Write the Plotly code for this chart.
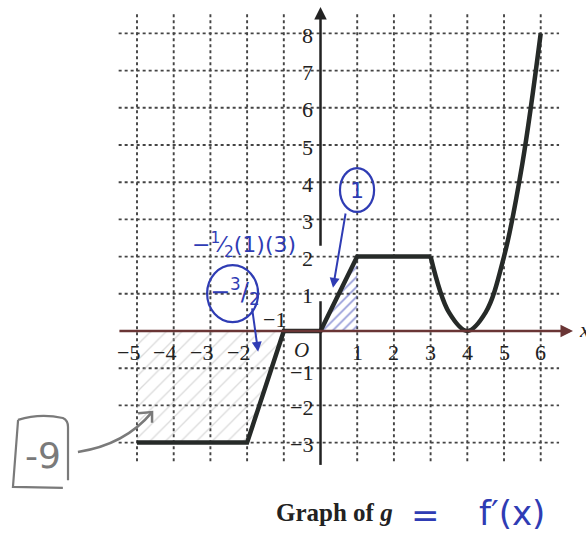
import plotly.graph_objects as go

# ---- data: the function g ----
# piecewise-linear part of g on [-5, 3]
lin_x = [-5, -2, -1, 0, 1, 3]
lin_y = [-3, -3, 0, 0, 2, 2]
# curved part of g on [3, 6]
curve_x = [3, 3.5, 4, 4.5, 5, 5.5, 6]
curve_y = [2, 0.5, 0, 0.5, 2, 4.5, 8]

# shaded regions (area between g and the x-axis)
neg_region_x = [-5, -5, -2, -1, -5]
neg_region_y = [0, -3, -3, 0, 0]
pos_region_x = [0, 1, 1, 0]
pos_region_y = [0, 2, 0, 0]

# tick labels
x_tick_vals = [-5, -4, -3, -2, 1, 2, 3, 4, 5, 6]
y_tick_vals = [-3, -2, -1, 1, 2, 3, 4, 5, 6, 7, 8]
grid_x = [-5, -4, -3, -2, -1, 1, 2, 3, 4, 5, 6]
grid_y = [-3, -2, -1, 1, 2, 3, 4, 5, 6, 7, 8]

X_RANGE = [-8.733, 7.234]
Y_RANGE = [-5.538, 8.898]

INK = "#262a28"
BLUE = "#2f3cb4"
PENCIL = "#7a7a7a"
SERIF = "Liberation Serif"
HAND = "DejaVu Sans"

fig = go.Figure()

# hatched areas
fig.add_trace(go.Scatter(
    x=neg_region_x, y=neg_region_y, mode="lines", fill="toself",
    line=dict(width=0, color="rgba(0,0,0,0)"),
    fillcolor="rgba(0,0,0,0)",
    fillpattern=dict(shape="/", fgcolor="#b8b8b8", bgcolor="rgba(0,0,0,0)",
                     size=11, solidity=0.12),
    hoverinfo="skip", showlegend=False))
fig.add_trace(go.Scatter(
    x=pos_region_x, y=pos_region_y, mode="lines", fill="toself",
    line=dict(width=0, color="rgba(0,0,0,0)"),
    fillcolor="rgba(0,0,0,0)",
    fillpattern=dict(shape="/", fgcolor=BLUE, bgcolor="rgba(0,0,0,0)",
                     size=7, solidity=0.25),
    hoverinfo="skip", showlegend=False))

shapes = []
# dotted grid
for gx in grid_x:
    shapes.append(dict(type="line", xref="x", yref="y", x0=gx, x1=gx, y0=-3.5, y1=8.55,
                       line=dict(color="#444", width=1.9, dash="dot"), layer="below"))
for gy in grid_y:
    shapes.append(dict(type="line", xref="x", yref="y", x0=-5.5, x1=6.5, y0=gy, y1=gy,
                       line=dict(color="#444", width=1.9, dash="dot"), layer="below"))
# lower part of the y-axis
shapes.append(dict(type="line", xref="x", yref="y", x0=0, x1=0, y0=-3.6, y1=0.8,
                   line=dict(color="#222", width=2.5)))

# handwritten circles
shapes.append(dict(type="circle", xref="x", yref="y", x0=-3.09, x1=-1.70, y0=0.24, y1=1.77,
                   line=dict(color=BLUE, width=2.2)))
shapes.append(dict(type="circle", xref="x", yref="y", x0=0.53, x1=1.46, y0=3.2, y1=4.38,
                   line=dict(color=BLUE, width=2.2)))
# pencil box around the answer and its arrow
shapes.append(dict(type="path", xref="x", yref="y",
                   path="M -8.24,-2.39 Q -7.64,-2.2 -7.02,-2.34 Q -6.88,-2.4 -6.88,-2.58 "
                        "L -6.88,-4.01 M -8.24,-2.39 L -8.38,-4.19 L -7.02,-4.22",
                   line=dict(color=PENCIL, width=2.2)))
shapes.append(dict(type="path", xref="x", yref="y",
                   path="M -6.61,-3.25 Q -5.33,-3.06 -4.59,-2.18",
                   line=dict(color=PENCIL, width=2.5)))
shapes.append(dict(type="path", xref="x", yref="y",
                   path="M -4.97,-2.21 L -4.59,-2.18 L -4.59,-2.47",
                   line=dict(color=PENCIL, width=2.5)))

# graph of g
fig.add_trace(go.Scatter(x=lin_x, y=lin_y, mode="lines",
                         line=dict(color=INK, width=4.5),
                         hoverinfo="skip", showlegend=False))
fig.add_trace(go.Scatter(x=curve_x, y=curve_y, mode="lines",
                         line=dict(color=INK, width=4.5, shape="spline", smoothing=1),
                         hoverinfo="skip", showlegend=False))

ann = []
tick_font = dict(family=SERIF, size=22, color="#222")
for v in x_tick_vals:
    ann.append(dict(x=v, y=-0.58, xref="x", yref="y", text=f"{v}".replace("-", "\u2212"),
                    showarrow=False, font=tick_font,
                    xshift=-9 if v < 0 else 0))
ann.append(dict(x=-1, y=0.32, xref="x", yref="y", text="\u22121", showarrow=False,
                font=tick_font, xshift=-9))
ann.append(dict(x=0, y=-0.5, xref="x", yref="y", text="<i>O</i>", showarrow=False,
                font=dict(family=SERIF, size=21, color="#222"), xshift=-19))
for v in y_tick_vals:
    ann.append(dict(x=0, y=v, xref="x", yref="y", text=f"{v}".replace("-", "\u2212"),
                    showarrow=False, font=tick_font, xanchor="right", xshift=-6,
                    yshift=-4 if v == -1 else -2))

# axes with arrowheads
ann.append(dict(x=6.88, y=0, ax=-5.52, ay=0, xref="x", yref="y", axref="x", ayref="y",
                text="", showarrow=True, arrowhead=2, arrowsize=1, arrowwidth=2.5,
                arrowcolor="#6a3535"))
ann.append(dict(x=0, y=8.71, ax=0, ay=2.25, xref="x", yref="y", axref="x", ayref="y",
                text="", showarrow=True, arrowhead=2, arrowsize=1, arrowwidth=2.5,
                arrowcolor="#222"))
ann.append(dict(x=7.0, y=0.05, xref="x", yref="y", text="<i>x</i>", showarrow=False,
                font=dict(family=SERIF, size=22, color="#222"), xanchor="left"))

# caption
ann.append(dict(x=0.37, y=-4.87, xref="x", yref="y", text="<b>Graph of <i>g</i></b>",
                showarrow=False, font=dict(family=SERIF, size=25, color="#222")))
ann.append(dict(x=2.85, y=-4.95, xref="x", yref="y", text="=", showarrow=False,
                font=dict(family=HAND, size=34, color=BLUE)))
ann.append(dict(x=5.22, y=-4.89, xref="x", yref="y", text="f\u2032(x)", showarrow=False,
                font=dict(family=HAND, size=34, color=BLUE)))

# handwritten work
ann.append(dict(x=-2.08, y=2.31, xref="x", yref="y",
                text="\u2212<sup>1</sup>\u2044<sub>2</sub>(1)(3)", showarrow=False,
                font=dict(family=HAND, size=22, color=BLUE)))
ann.append(dict(x=-2.33, y=1.05, xref="x", yref="y",
                text="\u2212<sup>3</sup>/<sub>2</sub>", showarrow=False,
                font=dict(family=HAND, size=24, color=BLUE)))
ann.append(dict(x=-1.70, y=-0.56, ax=-1.87, ay=0.65, xref="x", yref="y",
                axref="x", ayref="y", text="", showarrow=True, arrowhead=2,
                arrowsize=1, arrowwidth=2, arrowcolor=BLUE))
ann.append(dict(x=0.99, y=3.79, xref="x", yref="y", text="1", showarrow=False,
                font=dict(family=HAND, size=22, color=BLUE)))
ann.append(dict(x=0.34, y=1.16, ax=0.69, ay=3.2, xref="x", yref="y",
                axref="x", ayref="y", text="", showarrow=True, arrowhead=2,
                arrowsize=1, arrowwidth=2, arrowcolor=BLUE))
ann.append(dict(x=-7.55, y=-3.35, xref="x", yref="y", text="-9", showarrow=False,
                font=dict(family=HAND, size=36, color=PENCIL)))

fig.update_layout(
    width=586, height=537,
    margin=dict(l=0, r=0, t=0, b=0),
    paper_bgcolor="white", plot_bgcolor="white",
    xaxis=dict(range=X_RANGE, visible=False, fixedrange=True),
    yaxis=dict(range=Y_RANGE, visible=False, fixedrange=True),
    shapes=shapes, annotations=ann, showlegend=False,
)

fig.write_html("out.html")
